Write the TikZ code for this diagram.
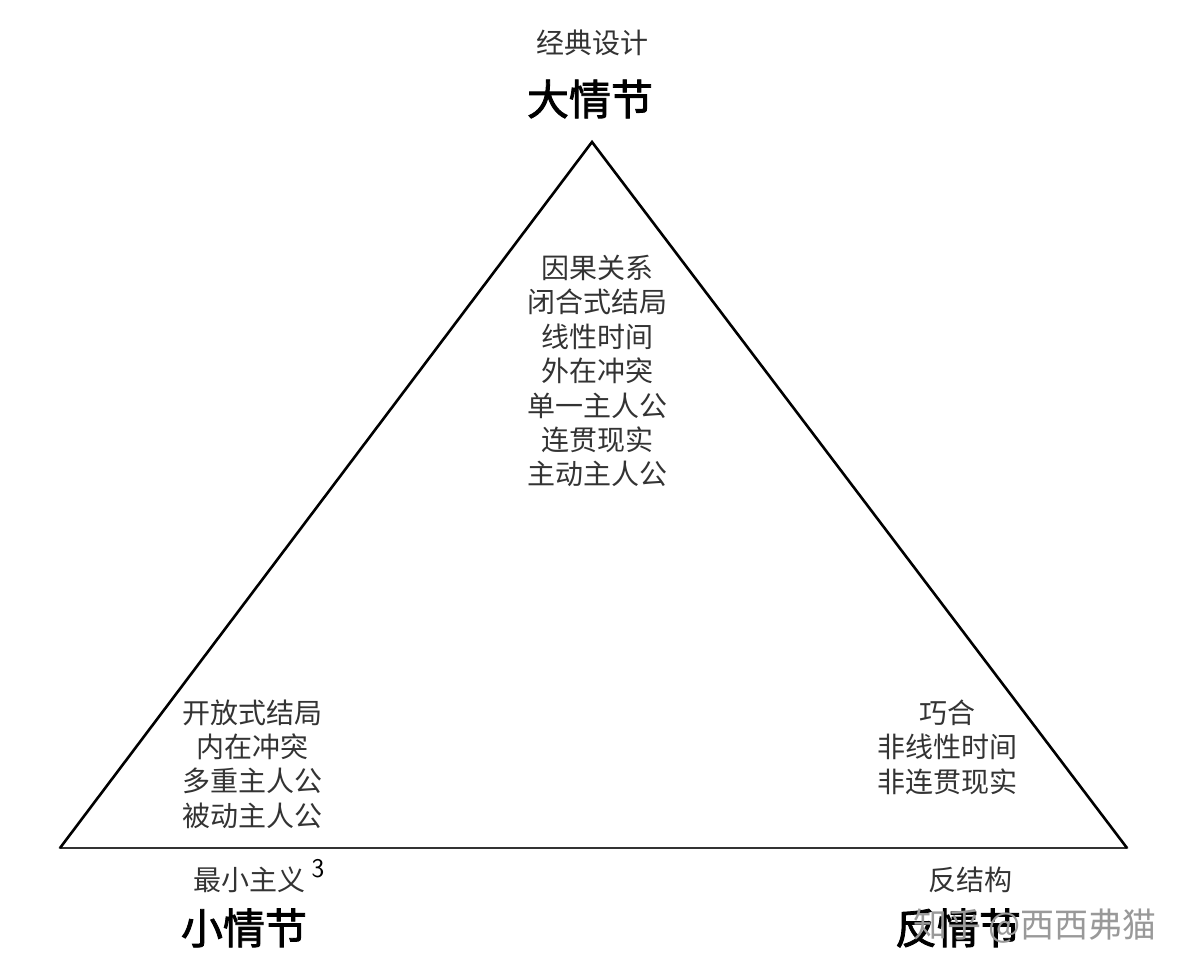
\documentclass[tikz,border=0pt]{standalone}
\usepackage{fontspec}
\newfontfamily\cjk{Noto Sans CJK SC}
\newfontfamily\cjkb{Noto Sans CJK SC}[FakeBold=2]
\setmainfont{Liberation Serif}
\begin{document}
\begin{tikzpicture}[x=1pt,y=-1pt,
  smalltxt/.style={font=\cjk\fontsize{28}{34.4}\selectfont, text=black!80, align=center, inner sep=0pt},
  bigtxt/.style={font=\cjkb\fontsize{42}{44}\selectfont, text=black, inner sep=0pt},
  wm/.style={font=\cjk\fontsize{34}{36}\selectfont, text=black!40, inner sep=0pt, anchor=west}]
\useasboundingbox (0,0) rectangle (1192,974);
\fill[white] (0,0) rectangle (1192,974);
\coordinate (A) at (592,142);
\coordinate (L) at (60,848);
\coordinate (R) at (1127,848);
\draw[line width=2.8pt, black!80, line cap=round] (L) -- (R);
\draw[line width=2.6pt, black, line join=miter] (L) -- (A) -- (R);
\node[smalltxt] (topsub) at (592,43) {经典设计};
\node[bigtxt] (toptitle) at (590,99) {大情节};
\node[smalltxt] (center) at (597,371) {因果关系\\闭合式结局\\线性时间\\外在冲突\\单一主人公\\连贯现实\\主动主人公};
\node[smalltxt] (left) at (252,764) {开放式结局\\内在冲突\\多重主人公\\被动主人公};
\node[smalltxt] (right) at (947,747) {巧合\\非线性时间\\非连贯现实};
\node[smalltxt] (lsub) at (249,880) {最小主义};
\node[font=\sffamily\fontsize{27}{28}\selectfont, inner sep=0pt] (sup) at (318,869) {3};
\node[bigtxt] (ltitle) at (244,928) {小情节};
\node[smalltxt] (rsub) at (970,880) {反结构};
\node[bigtxt] (rtitle) at (958,928) {反情节};
\node[wm] (mark) at (913,926) {知乎 @西西弗猫};
\end{tikzpicture}
\end{document}
